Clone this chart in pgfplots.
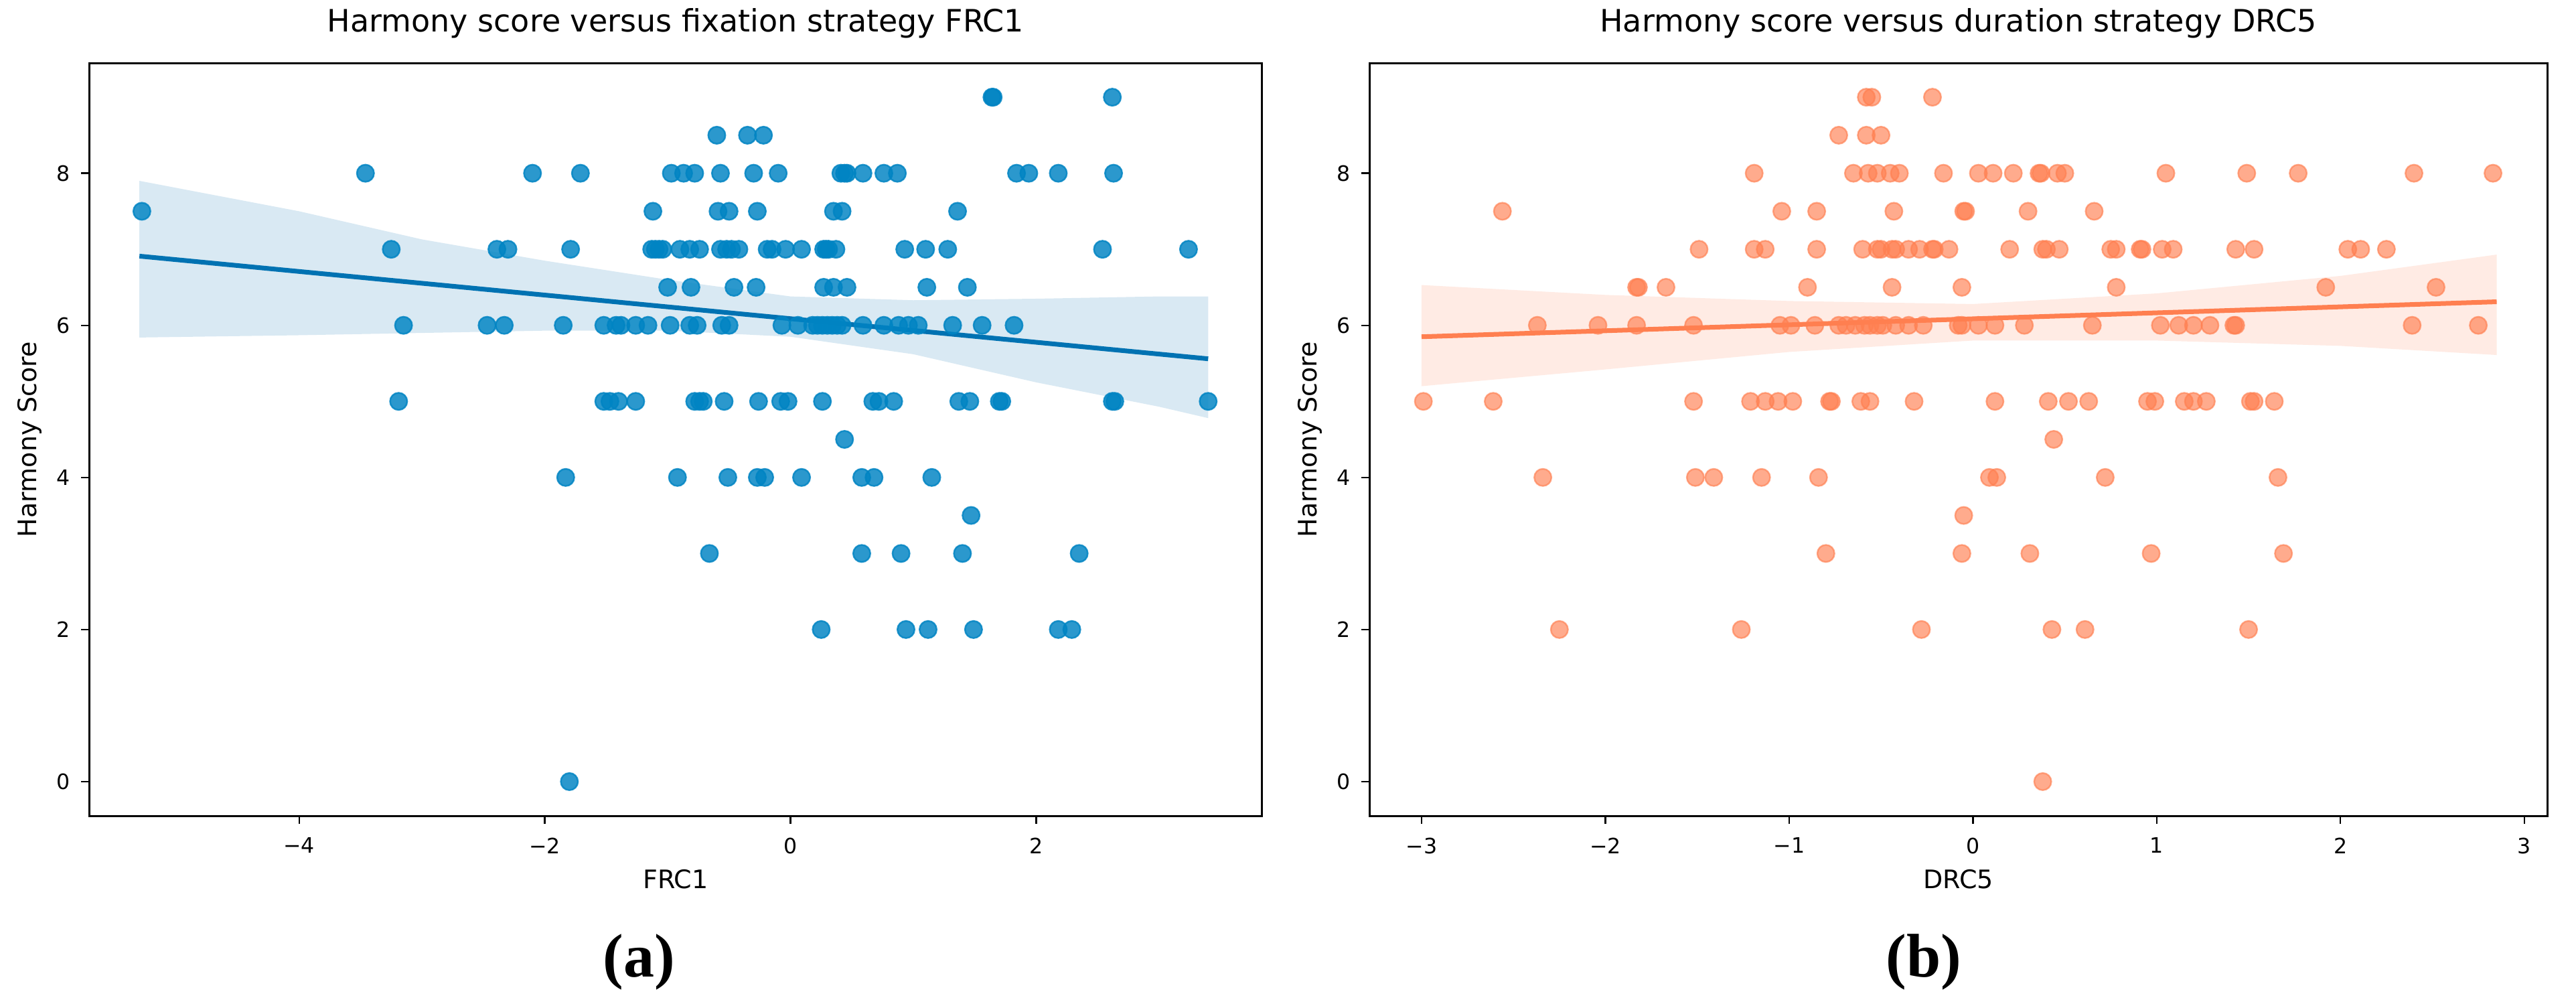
\documentclass[border=0pt]{standalone}
\usepackage{pgfplots}
\pgfplotsset{compat=1.18}
\usepackage{fontspec}
\setmainfont{DejaVu Sans}
\newfontfamily\capfont{Liberation Serif}
\definecolor{bluept}{RGB}{0,132,195}
\definecolor{blueline}{RGB}{0,114,178}
\definecolor{orpt}{RGB}{255,127,80}
\definecolor{orline}{RGB}{255,127,80}

\pgfplotsset{
  myax/.style={
    scale only axis, height=281pt, anchor=south west,
    ymin=-0.45, ymax=9.45,
    ytick={0,2,4,6,8}, yticklabels={0,2,4,6,8},
    tick align=outside, major tick length=3pt,
    xtick pos=left, ytick pos=left,
    tick style={black, line width=0.6pt},
    axis line style={black, line width=0.75pt},
    ticklabel style={font=\fontsize{7.9}{9}\selectfont},
    yticklabel style={inner sep=0pt, xshift=-4pt},
    xticklabel style={inner sep=0pt, yshift=-5pt},
    title style={font=\fontsize{11.5}{13}\selectfont, at={([yshift=5.75pt]axis description cs:0.5,1)}, anchor=base},
    xlabel style={font=\fontsize{9.5}{11}\selectfont, at={([yshift=-27pt]axis description cs:0.5,0)}, anchor=base},
    ylabel style={font=\fontsize{9.5}{11}\selectfont, at={([xshift=-19.75pt]axis description cs:0,0.5)}, anchor=base},
  }
}

\pgfplotstableread{
x y
1.64 9
1.65 9
2.62 9
-0.60 8.5
-0.35 8.5
-0.22 8.5
-3.46 8
-2.10 8
-1.71 8
-0.97 8
-0.87 8
-0.78 8
-0.57 8
-0.30 8
-0.10 8
0.41 8
0.44 8
0.46 8
0.59 8
0.76 8
0.87 8
1.84 8
1.94 8
2.18 8
2.63 8
-5.28 7.5
-1.12 7.5
-0.59 7.5
-0.50 7.5
-0.27 7.5
0.35 7.5
0.42 7.5
1.36 7.5
-3.25 7
-2.39 7
-2.30 7
-1.79 7
-1.13 7
-1.10 7
-1.07 7
-1.04 7
-0.90 7
-0.82 7
-0.74 7
-0.57 7
-0.52 7
-0.48 7
-0.42 7
-0.19 7
-0.15 7
-0.04 7
0.09 7
0.27 7
0.29 7
0.31 7
0.37 7
0.93 7
1.10 7
1.28 7
2.54 7
3.24 7
-1.00 6.5
-0.81 6.5
-0.46 6.5
-0.28 6.5
0.27 6.5
0.35 6.5
0.46 6.5
1.11 6.5
1.44 6.5
-3.15 6
-2.47 6
-2.33 6
-1.85 6
-1.52 6
-1.42 6
-1.38 6
-1.26 6
-1.16 6
-0.98 6
-0.82 6
-0.76 6
-0.56 6
-0.50 6
-0.07 6
0.06 6
0.18 6
0.22 6
0.26 6
0.30 6
0.34 6
0.38 6
0.42 6
0.59 6
0.76 6
0.88 6
0.96 6
1.04 6
1.32 6
1.56 6
1.82 6
-3.19 5
-1.52 5
-1.47 5
-1.40 5
-1.26 5
-0.78 5
-0.74 5
-0.71 5
-0.54 5
-0.26 5
-0.08 5
-0.02 5
0.26 5
0.67 5
0.72 5
0.84 5
1.37 5
1.46 5
1.70 5
1.72 5
2.62 5
2.64 5
3.40 5
0.44 4.5
-1.83 4
-0.92 4
-0.51 4
-0.27 4
-0.21 4
0.09 4
0.58 4
0.68 4
1.15 4
1.47 3.5
-0.66 3
0.58 3
0.90 3
1.40 3
2.35 3
0.25 2
0.94 2
1.12 2
1.49 2
2.18 2
2.29 2
-1.80 0
}\frcdata

\pgfplotstableread{
x y
-0.58 9
-0.55 9
-0.22 9
-0.73 8.5
-0.58 8.5
-0.50 8.5
-1.19 8
-0.65 8
-0.57 8
-0.52 8
-0.45 8
-0.40 8
-0.16 8
0.03 8
0.11 8
0.22 8
0.36 8
0.37 8
0.46 8
0.50 8
1.05 8
1.49 8
1.77 8
2.40 8
2.83 8
-2.56 7.5
-1.04 7.5
-0.85 7.5
-0.43 7.5
-0.05 7.5
-0.04 7.5
0.30 7.5
0.66 7.5
-1.49 7
-1.19 7
-1.13 7
-0.85 7
-0.60 7
-0.52 7
-0.50 7
-0.44 7
-0.42 7
-0.35 7
-0.29 7
-0.22 7
-0.21 7
-0.13 7
0.20 7
0.38 7
0.40 7
0.47 7
0.75 7
0.78 7
0.91 7
0.92 7
1.03 7
1.09 7
1.43 7
1.53 7
2.04 7
2.11 7
2.25 7
-1.83 6.5
-1.82 6.5
-1.67 6.5
-0.90 6.5
-0.44 6.5
-0.06 6.5
0.78 6.5
1.92 6.5
2.52 6.5
-2.37 6
-2.04 6
-1.83 6
-1.52 6
-1.05 6
-0.99 6
-0.86 6
-0.73 6
-0.69 6
-0.64 6
-0.59 6
-0.56 6
-0.52 6
-0.49 6
-0.42 6
-0.35 6
-0.27 6
-0.08 6
-0.06 6
0.03 6
0.12 6
0.28 6
0.65 6
1.02 6
1.12 6
1.20 6
1.29 6
1.42 6
1.43 6
2.39 6
2.75 6
-2.99 5
-2.61 5
-1.52 5
-1.21 5
-1.13 5
-1.06 5
-0.98 5
-0.78 5
-0.77 5
-0.61 5
-0.56 5
-0.32 5
0.12 5
0.41 5
0.52 5
0.63 5
0.95 5
0.99 5
1.15 5
1.20 5
1.27 5
1.51 5
1.53 5
1.64 5
0.44 4.5
-2.34 4
-1.51 4
-1.41 4
-1.15 4
-0.84 4
0.09 4
0.13 4
0.72 4
1.66 4
-0.05 3.5
-0.80 3
-0.06 3
0.31 3
0.97 3
1.69 3
-2.25 2
-1.26 2
-0.28 2
0.43 2
0.61 2
1.50 2
0.38 0
}\drcdata

\begin{document}
\begin{tikzpicture}
\fill[white] (0,0) rectangle (961.75pt,373pt);
\useasboundingbox (0,0) rectangle (961.75pt,373pt);

\begin{axis}[myax, at={(33.25pt,68.5pt)}, width=438pt,
  xmin=-5.71, xmax=3.84,
  xtick={-4,-2,0,2}, xticklabels={−4,−2,0,2},
  title={Harmony score versus fixation strategy FRC1},
  xlabel={FRC1}, ylabel={Harmony Score}]
\addplot[only marks, mark=*, mark size=3.2pt,
  mark options={draw=bluept, fill=bluept, opacity=0.83, line width=0.6pt}] table[x=x,y=y] {\frcdata};
\addplot[draw=none, fill=blueline, fill opacity=0.15] coordinates {
(-5.3,7.90) (-4,7.50) (-3,7.13) (-2,6.85) (-1,6.60) (0,6.38) (1,6.33) (2,6.35) (3,6.38) (3.4,6.38)
(3.4,4.78) (3,4.93) (2,5.25) (1,5.62) (0,5.85) (-1,5.93) (-2,5.93) (-3,5.90) (-4,5.87) (-5.3,5.84)} -- cycle;
\addplot[blueline, line width=1.75pt] coordinates {(-5.3,6.91) (3.4,5.56)};
\end{axis}

\begin{axis}[myax, at={(511.25pt,68.5pt)}, width=439.75pt,
  xmin=-3.284, xmax=3.125,
  xtick={-3,-2,-1,0,1,2,3}, xticklabels={−3,−2,−1,0,1,2,3},
  title={Harmony score versus duration strategy DRC5},
  xlabel={DRC5}, ylabel={Harmony Score}]
\addplot[only marks, mark=*, mark size=3.2pt,
  mark options={draw=orpt, fill=orpt, opacity=0.65, line width=0.6pt}] table[x=x,y=y] {\drcdata};
\addplot[draw=none, fill=orline, fill opacity=0.15] coordinates {
(-3.0,6.53) (-2,6.40) (-1,6.32) (0,6.28) (1,6.42) (2,6.65) (2.85,6.93)
(2.85,5.61) (2,5.73) (1,5.80) (0,5.80) (-1,5.65) (-2,5.42) (-3.0,5.20)} -- cycle;
\addplot[orline, line width=1.75pt] coordinates {(-3.0,5.85) (2.85,6.31)};
\end{axis}

\node[font=\capfont\bfseries\fontsize{23}{26}\selectfont, anchor=base] at (238.5pt,8.5pt) {(a)};
\node[font=\capfont\bfseries\fontsize{23}{26}\selectfont, anchor=base] at (718.25pt,8.5pt) {(b)};
\end{tikzpicture}
\end{document}
